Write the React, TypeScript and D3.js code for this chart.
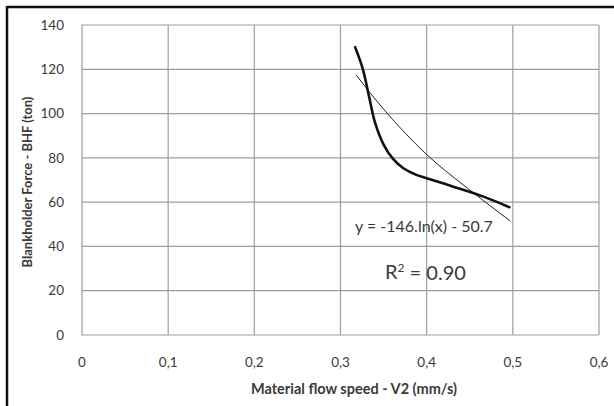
import React, { useEffect, useRef } from "react";
import * as d3 from "d3";

// measured curve (V2 mm/s, BHF ton)
const speed = [0.317, 0.326, 0.333, 0.34, 0.35, 0.361, 0.373, 0.388, 0.4, 0.431, 0.466, 0.496];
const force = [130, 120, 108, 96, 86, 79.5, 75.3, 72.3, 70.8, 67, 62.5, 57.7];

// log trendline
const trendSpeed = [0.318, 0.35, 0.4, 0.45, 0.497];
const trendForce = [117.5, 102, 81.5, 65.5, 51.5];

const xTicks = [0, 0.1, 0.2, 0.3, 0.4, 0.5, 0.6];
const yTicks = [0, 20, 40, 60, 80, 100, 120, 140];

const App = () => {
    const ref = useRef<SVGSVGElement>(null);

    useEffect(() => {
        const svg = d3.select(ref.current);
        svg.selectAll("*").remove();

        const width = 614;
        const height = 406;
        const margin = { top: 25, right: 15, bottom: 71, left: 82 };
        const font = "Lato, 'Open Sans', sans-serif";
        const gridColor = "#a09c9c";
        const textColor = "#3a3a3a";

        const x = d3
            .scaleLinear()
            .domain([0, 0.6])
            .range([margin.left, width - margin.right]);
        const y = d3
            .scaleLinear()
            .domain([0, 140])
            .range([height - margin.bottom, margin.top]);

        svg.append("rect")
            .attr("width", width)
            .attr("height", height)
            .attr("fill", "white");

        // black frame on top and left
        svg.append("line")
            .attr("x1", 7).attr("x2", width)
            .attr("y1", 7).attr("y2", 7)
            .attr("stroke", "#111").attr("stroke-width", 2.5);
        svg.append("line")
            .attr("x1", 7).attr("x2", 7)
            .attr("y1", 6).attr("y2", height)
            .attr("stroke", "#111").attr("stroke-width", 2.5);

        // grid
        svg.append("g")
            .selectAll("line")
            .data(yTicks)
            .join("line")
            .attr("x1", x(0))
            .attr("x2", x(0.6))
            .attr("y1", (d) => y(d))
            .attr("y2", (d) => y(d))
            .attr("stroke", gridColor)
            .attr("stroke-width", 1.2);
        svg.append("g")
            .selectAll("line")
            .data(xTicks)
            .join("line")
            .attr("x1", (d) => x(d))
            .attr("x2", (d) => x(d))
            .attr("y1", y(0))
            .attr("y2", y(140))
            .attr("stroke", gridColor)
            .attr("stroke-width", 1.2);

        // tick labels
        svg.append("g")
            .selectAll("text")
            .data(yTicks)
            .join("text")
            .attr("x", 64)
            .attr("y", (d) => y(d))
            .attr("dy", "0.35em")
            .attr("text-anchor", "end")
            .attr("font-family", font)
            .attr("font-size", 13.5)
            .attr("fill", textColor)
            .text((d) => d);
        svg.append("g")
            .selectAll("text")
            .data(xTicks)
            .join("text")
            .attr("x", (d) => x(d))
            .attr("y", 362)
            .attr("dy", "0.35em")
            .attr("text-anchor", "middle")
            .attr("font-family", font)
            .attr("font-size", 13.5)
            .attr("fill", textColor)
            .text((d) => (d === 0 ? "0" : d3.format(".1f")(d).replace(".", ",")));

        // axis titles
        svg.append("text")
            .attr("x", 354)
            .attr("y", 389)
            .attr("dy", "0.35em")
            .attr("text-anchor", "middle")
            .attr("font-family", font)
            .attr("font-size", 14.5)
            .attr("font-weight", "bold")
            .attr("fill", textColor)
            .text("Material flow speed - V2 (mm/s)");
        svg.append("text")
            .attr("transform", "translate(27,182) rotate(-90)")
            .attr("dy", "0.35em")
            .attr("text-anchor", "middle")
            .attr("font-family", font)
            .attr("font-size", 13)
            .attr("font-weight", "bold")
            .attr("fill", textColor)
            .text("Blankholder Force - BHF (ton)");

        // trendline
        const trendLine = d3
            .line<number>()
            .x((d, i) => x(trendSpeed[i]))
            .y((d) => y(d))
            .curve(d3.curveMonotoneX);
        svg.append("path")
            .attr("d", trendLine(trendForce))
            .attr("fill", "none")
            .attr("stroke", "#222")
            .attr("stroke-width", 1);

        // measured curve
        const curve = d3
            .line<number>()
            .x((d, i) => x(speed[i]))
            .y((d) => y(d))
            .curve(d3.curveCatmullRom.alpha(0.5));
        svg.append("path")
            .attr("d", curve(force))
            .attr("fill", "none")
            .attr("stroke", "#111")
            .attr("stroke-width", 2.6)
            .attr("stroke-linecap", "round");

        // equation + R²
        svg.append("text")
            .attr("x", 355)
            .attr("y", 226)
            .attr("dy", "0.35em")
            .attr("font-family", font)
            .attr("font-size", 16)
            .attr("fill", textColor)
            .text("y = -146.ln(x) - 50.7");
        const r2 = svg.append("text")
            .attr("x", 385)
            .attr("y", 272)
            .attr("dy", "0.35em")
            .attr("font-family", font)
            .attr("font-size", 20)
            .attr("fill", textColor);
        r2.append("tspan").text("R");
        r2.append("tspan").attr("font-size", 12).attr("dy", "-0.6em").text("2");
        r2.append("tspan").attr("dy", "0.4em").text(" = 0.90");
    }, []);

    return (
        <svg
            ref={ref}
            width={614}
            height={406}
            style={{ position: "absolute", left: 0, top: 0 }}
        ></svg>
    );
};

export default App;
